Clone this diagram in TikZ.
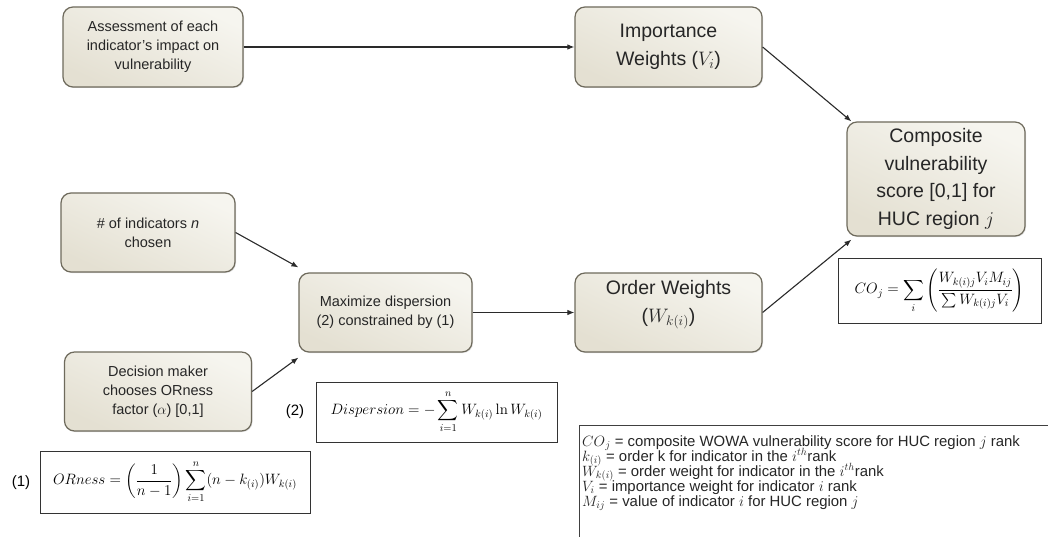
\RequirePackage{fix-cm}
\documentclass[tikz,border=0pt]{standalone}
\usepackage{amsmath}
\usepackage[no-math]{fontspec}
\setmainfont{Liberation Sans}
\usetikzlibrary{arrows.meta,shadows}
\definecolor{boxtop}{HTML}{F6F5EF}
\definecolor{boxbot}{HTML}{E4E0D2}
\definecolor{boxline}{HTML}{6E6A5C}
\definecolor{arrowc}{HTML}{2A2A2A}
\newcommand\myLegendFont{\fontsize{14.9}{15}\selectfont\lineskiplimit=-20pt\relax}
\begin{document}
\begin{tikzpicture}[x=1pt,y=-1pt,
  procbox/.style={draw=boxline, line width=1.2pt, rounded corners=10pt,
    top color=boxtop, bottom color=boxbot, shading angle=-25,
    drop shadow={shadow xshift=1pt, shadow yshift=-1pt, opacity=0.25},
    align=center, inner sep=2pt, text=black!85},
  smalltext/.style={font=\fontsize{14.5}{19}\selectfont},
  bigtext/.style={font=\fontsize{19.5}{27.5}\selectfont},
  formbox/.style={draw=black!80, line width=1pt, inner sep=0pt, align=center,
    font=\fontsize{15}{17}\selectfont},
  conn/.style={draw=arrowc, line width=1.1pt, -{Latex[length=7pt,width=5.5pt]}}
]
\useasboundingbox (0,0) rectangle (1048,537);
\fill[white] (0,0) rectangle (1048,537);

% process boxes
\node[procbox, smalltext, minimum width=180pt, minimum height=80pt] (as) at (153,47)
  {Assessment of each\\indicator’s impact on\\vulnerability};
\node[procbox, bigtext, minimum width=187pt, minimum height=80pt] (imp) at (668.5,47)
  {Importance\\Weights ($V_i$)};
\node[procbox, bigtext, minimum width=178pt, minimum height=114pt] (comp) at (936,179)
  {Composite\\vulnerability\\score [0,1] for\\HUC region $j$};
\node[procbox, smalltext, minimum width=174pt, minimum height=79pt] (num) at (148,232.5)
  {\# of indicators \textit{n}\\chosen};
\node[procbox, smalltext, minimum width=187pt, minimum height=79pt] (dec) at (158,391.5)
  {Decision maker\\chooses ORness\\factor ($\alpha$) [0,1]};
\node[procbox, smalltext, minimum width=173pt, minimum height=79pt] (max) at (385.5,312.5)
  {Maximize dispersion\\(2) constrained by (1)};
\node[procbox, bigtext, minimum width=187pt, minimum height=79pt] (ord) at (668.5,312.5)
  {Order Weights\\($W_{k(i)}$)\rule[-22pt]{0pt}{1pt}};

% formula boxes
\node[formbox, minimum width=203pt, minimum height=65pt] (coform) at (939.5,290.5)
  {$\displaystyle \mathnormal{CO}_j=\sum_i\left(\frac{W_{k(i)j}V_iM_{ij}}{\sum W_{k(i)j}V_i}\right)$};
\node[formbox, minimum width=241pt, minimum height=60pt] (dispform) at (436.5,412)
  {$\displaystyle \mathnormal{Dispersion}=-\sum_{i=1}^{n}W_{k(i)}\ln W_{k(i)}$};
\node[font=\fontsize{15}{18}\selectfont] (lab2) at (295,412) {(2)};
\node[formbox, minimum width=270pt, minimum height=62pt] (orform) at (175,482)
  {$\displaystyle \mathnormal{ORness}=\left(\frac{1}{n-1}\right)\sum_{i=1}^{n}(n-k_{(i)})W_{k(i)}$};
\node[font=\fontsize{15}{18}\selectfont] (lab1) at (21,483) {(1)};

% legend box (cut at right and bottom)
\coordinate (lgtr) at (1052,425);
\coordinate (lgtl) at (579,425);
\coordinate (lgbl) at (579,540);
\draw[black!75, line width=1pt] (lgtr) -- (lgtl) -- (lgbl);
\node[anchor=north west, align=left, inner sep=0pt, text=black!85,
  font=\myLegendFont] (legend) at (582,435)
  {$\mathnormal{CO}_j$ = composite WOWA vulnerability score for HUC region $j$ rank\\
   $k_{(i)}$ = order k for indicator in the $i^{th}$rank\\
   $W_{k(i)}$ = order weight for indicator in the $i^{th}$rank\\
   $V_i$ = importance weight for indicator $i$ rank\\
   $M_{ij}$ = value of indicator $i$ for HUC region $j$};

% connectors
\draw[conn] (as.east) -- (imp.west);
\draw[conn] (imp.east) -- ([xshift=5pt,yshift=0pt]comp.north west);
\draw[conn] (ord.east) -- ([xshift=5pt,yshift=-3pt]comp.south west);
\draw[conn] (num.east) -- ([yshift=5pt]max.north west);
\draw[conn] (dec.east) -- ([yshift=-5pt]max.south west);
\draw[conn] (max.east) -- (ord.west);
\end{tikzpicture}
\end{document}
